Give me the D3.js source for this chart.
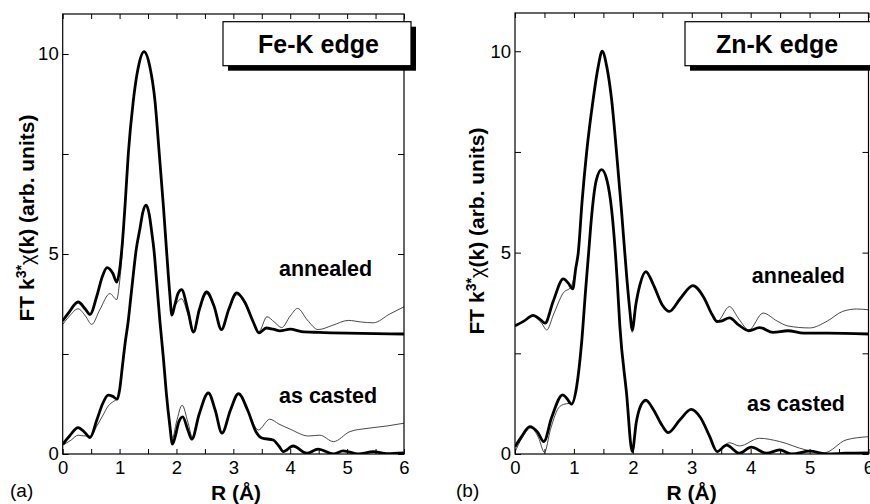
<!DOCTYPE html>
<html>
<head>
<meta charset="utf-8">
<script src="https://cdn.jsdelivr.net/npm/d3@7/dist/d3.min.js"></script>
<style>
  html, body { margin: 0; padding: 0; background: #fff; }
  svg { display: block; }
  text { font-family: "Liberation Sans", Arial, Helvetica, sans-serif; fill: #000; }
</style>
</head>
<body>
<svg id="chart" width="870" height="504"></svg>
<script>
// Fourier-transform magnitudes |FT k^3 chi(k)| versus R (Å).
// "exp" = measured spectrum (thin line), "fit" = model (thick line).
// Annealed curves carry a vertical offset of 3 units.

const rTickValues = [0, 1, 2, 3, 4, 5, 6];
const yTickValues = [0, 5, 10];
const sampleLabels = ["annealed", "as casted"];
const edgeLabels = ["Fe-K edge", "Zn-K edge"];
const panelLetters = ["(a)", "(b)"];

// ---- Fe K-edge ----
const feAnnealedFit = [
  [0, 3.33], [0.1, 3.52], [0.27, 3.80], [0.4, 3.62], [0.48, 3.49], [0.6, 3.95], [0.7, 4.45],
  [0.78, 4.66], [0.88, 4.52], [0.95, 4.30], [1.0, 4.6], [1.05, 5.3], [1.1, 6.3], [1.153, 7.5],
  [1.241, 8.83], [1.329, 9.67], [1.43, 10.06], [1.534, 9.67], [1.622, 8.83], [1.698, 7.5],
  [1.77, 6.2], [1.833, 4.94], [1.88, 4.05], [1.92, 3.47], [1.97, 3.72], [2.03, 4.02], [2.09, 4.11],
  [2.2, 3.6], [2.3, 3.05], [2.4, 3.6], [2.53, 4.05], [2.66, 3.7], [2.79, 3.11], [2.92, 3.62],
  [3.06, 4.03], [3.2, 3.8], [3.35, 3.3], [3.45, 3.03], [3.58, 3.15], [3.7, 3.12], [3.82, 3.08],
  [4.0, 3.12], [4.2, 3.06], [4.5, 3.04], [5.0, 3.02], [5.5, 3.01], [6.0, 3.0]
];
const feAnnealedExp = [
  [0, 3.24], [0.12, 3.45], [0.27, 3.63], [0.4, 3.45], [0.51, 3.24], [0.65, 3.6], [0.83, 4.01],
  [0.95, 3.86], [1.0, 4.3], [1.05, 5.1], [1.1, 6.3], [1.153, 7.5],
  [1.241, 8.83], [1.329, 9.67], [1.43, 10.06], [1.534, 9.67], [1.622, 8.83], [1.698, 7.5],
  [1.77, 6.2], [1.833, 4.94], [1.88, 4.1], [1.92, 3.58], [1.99, 3.75], [2.09, 3.88],
  [2.2, 3.5], [2.3, 3.08], [2.4, 3.58], [2.53, 4.0], [2.66, 3.68], [2.79, 3.12], [2.92, 3.6],
  [3.06, 3.98], [3.2, 3.76], [3.35, 3.3], [3.45, 3.06], [3.59, 3.43], [3.72, 3.3], [3.85, 3.16],
  [4.0, 3.45], [4.13, 3.64], [4.3, 3.35], [4.49, 3.11], [4.75, 3.22], [5.02, 3.34], [5.25, 3.3],
  [5.46, 3.28], [5.75, 3.5], [6.0, 3.68]
];
const feCastFit = [
  [0, 0.24], [0.12, 0.45], [0.27, 0.66], [0.38, 0.55], [0.48, 0.41], [0.6, 0.85], [0.7, 1.25],
  [0.8, 1.47], [0.88, 1.44], [0.96, 1.37], [1.0, 1.6], [1.05, 2.2], [1.1, 2.8], [1.15, 3.3],
  [1.2, 3.95], [1.23, 4.34], [1.29, 5.09], [1.36, 5.65], [1.41, 6.05], [1.465, 6.22], [1.52, 6.0],
  [1.565, 5.55], [1.605, 5.09], [1.65, 4.34], [1.71, 3.3], [1.77, 2.4], [1.82, 1.55], [1.88, 0.75],
  [1.93, 0.25], [1.98, 0.45], [2.04, 0.8], [2.11, 0.93], [2.2, 0.6], [2.27, 0.37], [2.4, 1.0],
  [2.56, 1.53], [2.68, 1.1], [2.8, 0.52], [2.95, 1.1], [3.09, 1.51], [3.25, 1.1], [3.4, 0.55],
  [3.5, 0.4], [3.7, 0.35], [3.8, 0.2], [3.88, 0.06], [4.05, 0.2], [4.29, 0.02], [4.49, 0.12],
  [4.76, 0.0], [4.93, 0.08], [5.2, 0.0], [5.46, 0.06], [5.7, 0.01], [6.0, 0.03]
];
const feCastExp = [
  [0, 0.22], [0.15, 0.35], [0.27, 0.47], [0.4, 0.45], [0.5, 0.45], [0.6, 0.7], [0.7, 0.95],
  [0.8, 1.2], [0.9, 1.32], [0.96, 1.37], [1.0, 1.6], [1.05, 2.2], [1.1, 2.8], [1.15, 3.3],
  [1.2, 3.95], [1.23, 4.34], [1.29, 5.09], [1.36, 5.65], [1.41, 6.05], [1.465, 6.22], [1.52, 6.0],
  [1.565, 5.55], [1.605, 5.09], [1.65, 4.34], [1.71, 3.3], [1.77, 2.4], [1.82, 1.55], [1.88, 0.8],
  [1.93, 0.4], [2.0, 0.8], [2.1, 1.22], [2.2, 0.8], [2.28, 0.42], [2.4, 1.0], [2.56, 1.5],
  [2.68, 1.1], [2.8, 0.53], [2.95, 1.1], [3.09, 1.48], [3.25, 1.1], [3.44, 0.6], [3.64, 0.87],
  [3.8, 0.75], [4.0, 0.62], [4.32, 0.45], [4.52, 0.47], [4.76, 0.31], [5.05, 0.56], [5.35, 0.64],
  [5.7, 0.7], [6.0, 0.77]
];

// ---- Zn K-edge ----
const znAnnealedFit = [
  [0, 3.18], [0.15, 3.3], [0.31, 3.44], [0.42, 3.35], [0.51, 3.25], [0.65, 3.8], [0.82, 4.35],
  [0.9, 4.25], [0.98, 4.10], [1.03, 4.6], [1.073, 4.99], [1.14, 6.3], [1.215, 7.48], [1.327, 8.81],
  [1.41, 9.6], [1.48, 10.0], [1.56, 9.6], [1.639, 8.81], [1.724, 7.48], [1.81, 6.0], [1.9, 4.33],
  [1.95, 3.55], [1.99, 3.08], [2.05, 3.7], [2.12, 4.2], [2.22, 4.53], [2.35, 4.2], [2.5, 3.7],
  [2.62, 3.54], [2.8, 3.85], [3.02, 4.18], [3.2, 3.9], [3.35, 3.45], [3.43, 3.29], [3.5, 3.3],
  [3.64, 3.38], [3.8, 3.2], [3.97, 3.06], [4.15, 3.14], [4.38, 3.02], [4.63, 3.06], [4.9, 3.0],
  [5.3, 3.0], [6.0, 2.98]
];
const znAnnealedExp = [
  [0, 3.2], [0.15, 3.3], [0.3, 3.42], [0.45, 3.25], [0.54, 3.08], [0.65, 3.45], [0.82, 4.0],
  [0.95, 4.15], [1.03, 4.6], [1.073, 4.99], [1.14, 6.3], [1.215, 7.48], [1.327, 8.81],
  [1.41, 9.6], [1.48, 10.0], [1.56, 9.6], [1.639, 8.81], [1.724, 7.48], [1.81, 6.0], [1.9, 4.33],
  [1.95, 3.5], [1.99, 3.02], [2.05, 3.7], [2.12, 4.2], [2.22, 4.5], [2.35, 4.2], [2.5, 3.7],
  [2.62, 3.54], [2.8, 3.85], [3.02, 4.16], [3.2, 3.9], [3.35, 3.45], [3.43, 3.29], [3.64, 3.66],
  [3.8, 3.35], [3.97, 3.08], [4.21, 3.5], [4.45, 3.3], [4.63, 3.18], [5.0, 3.13], [5.3, 3.3],
  [5.56, 3.54], [5.8, 3.6], [6.0, 3.58]
];
const znCastFit = [
  [0, 0.18], [0.12, 0.45], [0.25, 0.68], [0.38, 0.55], [0.49, 0.31], [0.62, 0.9], [0.81, 1.47],
  [0.88, 1.38], [0.96, 1.24], [1.046, 1.67], [1.13, 2.75], [1.2, 4.1], [1.25, 5.0], [1.3, 5.9],
  [1.38, 6.8], [1.47, 7.06], [1.56, 6.8], [1.64, 6.07], [1.734, 4.33], [1.78, 3.17], [1.893, 1.51],
  [1.99, 0.06], [2.06, 0.8], [2.12, 1.15], [2.22, 1.34], [2.35, 1.1], [2.5, 0.7], [2.6, 0.53],
  [2.8, 0.85], [2.99, 1.11], [3.15, 0.9], [3.3, 0.45], [3.43, 0.06], [3.59, 0.22], [3.81, 0.02],
  [4.01, 0.17], [4.27, 0.02], [4.49, 0.10], [4.7, 0.0], [5.0, 0.07], [5.3, 0.0], [5.6, 0.02],
  [6.0, 0.03]
];
const znCastExp = [
  [0, 0.05], [0.12, 0.4], [0.27, 0.65], [0.4, 0.4], [0.5, 0.04], [0.6, 0.6], [0.76, 1.18],
  [0.88, 1.25], [0.96, 1.26], [1.046, 1.67], [1.13, 2.75], [1.2, 4.1], [1.25, 5.0], [1.3, 5.9],
  [1.38, 6.8], [1.47, 7.06], [1.56, 6.8], [1.64, 6.07], [1.734, 4.33], [1.78, 3.17], [1.893, 1.51],
  [1.99, 0.06], [2.06, 0.8], [2.12, 1.15], [2.22, 1.30], [2.35, 1.1], [2.5, 0.7], [2.6, 0.53],
  [2.8, 0.85], [2.99, 1.11], [3.15, 0.9], [3.3, 0.45], [3.43, 0.08], [3.64, 0.28], [3.81, 0.20],
  [4.15, 0.39], [4.49, 0.31], [4.94, 0.10], [5.25, 0.03], [5.62, 0.35], [6.0, 0.43]
];

// ---- layout ----
const panels = [
  {
    frame: { x0: 62.7, x1: 404, y0: 14, y1: 454 }, yMax: 11,
    series: [feAnnealedExp, feCastExp], fits: [feAnnealedFit, feCastFit],
    edge: edgeLabels[0], letter: panelLetters[0],
    box: { x: 223, y: 21.7, w: 188, h: 44 }, edgeX: 318.5,
    labels: [{ x: 279, y: 276, anchor: "start" }, { x: 279, y: 402.7, anchor: "start" }],
    yTitle: { x: 33.5, y: 218 }, xTitle: { x: 236, y: 500 }, letterPos: { x: 10, y: 497 }
  },
  {
    frame: { x0: 515, x1: 868.5, y0: 13, y1: 454 }, yMax: 10.95,
    series: [znAnnealedExp, znCastExp], fits: [znAnnealedFit, znCastFit],
    edge: edgeLabels[1], letter: panelLetters[1],
    box: { x: 685, y: 21.7, w: 188, h: 44 }, edgeX: 777,
    labels: [{ x: 845, y: 283.3, anchor: "end" }, { x: 845, y: 410.7, anchor: "end" }],
    yTitle: { x: 483.5, y: 231 }, xTitle: { x: 691.7, y: 500 }, letterPos: { x: 456, y: 497 }
  }
];

const svg = d3.select("#chart");

panels.forEach((p, i) => {
  const f = p.frame;
  const x = d3.scaleLinear().domain([0, 6]).range([f.x0, f.x1]);
  const y = d3.scaleLinear().domain([0, p.yMax]).range([f.y1, f.y0]);
  const g = svg.append("g");

  const clipId = "clip" + i;
  g.append("clipPath").attr("id", clipId)
    .append("rect").attr("x", f.x0).attr("y", f.y0)
    .attr("width", f.x1 - f.x0).attr("height", f.y1 - f.y0);

  const line = d3.line()
    .x(d => x(d[0])).y(d => y(d[1]))
    .curve(d3.curveMonotoneX);

  const curves = g.append("g").attr("clip-path", `url(#${clipId})`);
  p.series.forEach(s => {
    curves.append("path").datum(s).attr("d", line)
      .attr("fill", "none").attr("stroke", "#333").attr("stroke-width", 0.9);
  });
  p.fits.forEach(s => {
    curves.append("path").datum(s).attr("d", line)
      .attr("fill", "none").attr("stroke", "#000").attr("stroke-width", 2.8)
      .attr("stroke-linejoin", "round");
  });

  // axes with inward ticks
  const rMinor = d3.range(0, 6.001, 0.5);
  const yMinor = [0, 2.5, 5, 7.5, 10];
  const fmtR = d => rTickValues.includes(d) ? d3.format("d")(d) : "";
  const fmtY = d => yTickValues.includes(d) ? d3.format("d")(d) : "";

  const axB = g.append("g").attr("transform", `translate(0,${f.y1})`)
    .call(d3.axisBottom(x).tickValues(rMinor).tickFormat(fmtR).tickSize(-5).tickPadding(7));
  const axT = g.append("g").attr("transform", `translate(0,${f.y0})`)
    .call(d3.axisTop(x).tickValues(rMinor).tickFormat("").tickSize(-5));
  const axL = g.append("g").attr("transform", `translate(${f.x0},0)`)
    .call(d3.axisLeft(y).tickValues(yMinor).tickFormat(fmtY).tickSize(-6).tickPadding(4));
  const axR = g.append("g").attr("transform", `translate(${f.x1},0)`)
    .call(d3.axisRight(y).tickValues(yMinor).tickFormat("").tickSize(-6));

  [axB, axT, axL, axR].forEach(a => {
    a.select(".domain").remove();
    a.selectAll("line").attr("stroke", "#000").attr("stroke-width", 1);
    a.selectAll("text").attr("font-size", 18.5).attr("font-family", "Liberation Sans, Arial, sans-serif").attr("fill", "#000");
  });

  g.append("rect").attr("x", f.x0).attr("y", f.y0)
    .attr("width", f.x1 - f.x0).attr("height", f.y1 - f.y0)
    .attr("fill", "none").attr("stroke", "#000").attr("stroke-width", 1.2);

  // sample labels
  sampleLabels.forEach((t, k) => {
    g.append("text").attr("x", p.labels[k].x).attr("y", p.labels[k].y)
      .attr("text-anchor", p.labels[k].anchor)
      .attr("font-size", 21.5).attr("font-weight", "bold").text(t);
  });

  // edge box with drop shadow
  const b = p.box;
  g.append("rect").attr("x", b.x + 5).attr("y", b.y + 5).attr("width", b.w).attr("height", b.h).attr("fill", "#000");
  g.append("rect").attr("x", b.x).attr("y", b.y).attr("width", b.w).attr("height", b.h)
    .attr("fill", "#fff").attr("stroke", "#000").attr("stroke-width", 1.2);
  g.append("text").attr("x", p.edgeX).attr("y", 53.3).attr("text-anchor", "middle")
    .attr("font-size", 25).attr("font-weight", "bold").text(p.edge);

  // axis titles
  const yt = g.append("text")
    .attr("transform", `translate(${p.yTitle.x},${p.yTitle.y}) rotate(-90)`)
    .attr("text-anchor", "middle").attr("font-size", 21).attr("font-weight", "bold");
  yt.append("tspan").text("FT k");
  yt.append("tspan").attr("font-size", 14).attr("dy", -8).text("3*");
  yt.append("tspan").attr("dy", 8).attr("font-weight", "normal").attr("font-size", 20).text("χ");
  yt.append("tspan").text("(k) (arb. units)");

  g.append("text").attr("x", p.xTitle.x).attr("y", p.xTitle.y).attr("text-anchor", "middle")
    .attr("font-size", 21).attr("font-weight", "bold").text("R (Å)");

  g.append("text").attr("x", p.letterPos.x).attr("y", p.letterPos.y)
    .attr("font-size", 19).text(p.letter);
});
</script>
</body>
</html>
